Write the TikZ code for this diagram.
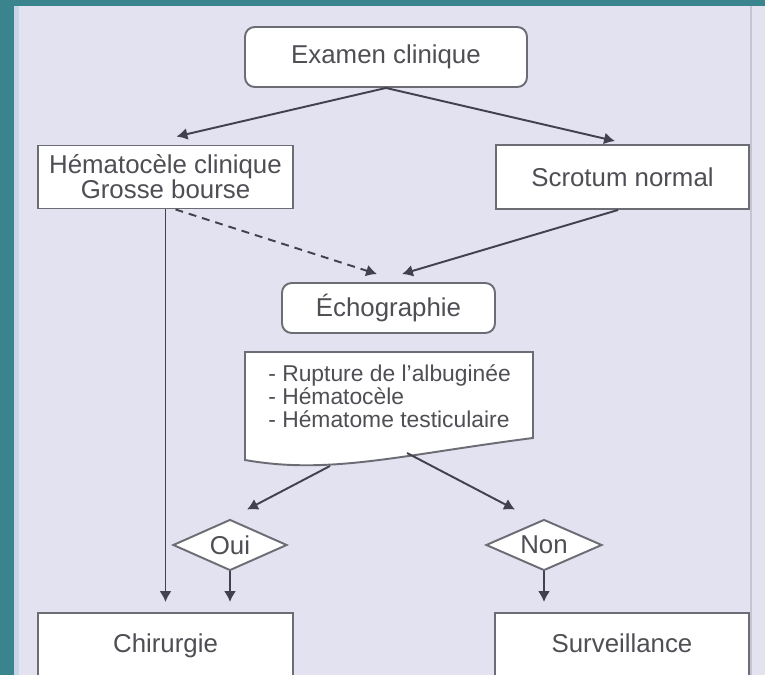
\documentclass[tikz,border=0pt]{standalone}
\usepackage{fontspec}
\setmainfont{Liberation Sans}
\usetikzlibrary{arrows.meta,shapes.geometric}
\definecolor{panel}{RGB}{226,226,240}
\definecolor{frameteal}{RGB}{58,132,142}
\definecolor{frameline}{RGB}{196,214,232}
\definecolor{edge}{RGB}{108,108,116}
\definecolor{ink}{RGB}{66,66,78}
\definecolor{txt}{RGB}{78,78,84}

\begin{document}
\begin{tikzpicture}[x=0.02cm,y=-0.02cm,font=\fontsize{14.7}{14.2}\selectfont,
  box/.style={draw=edge,line width=1.1pt,fill=white,text=txt,align=center,inner sep=0pt},
  rbox/.style={box,rounded corners=5.5pt},
  endbox/.style={box,text height=1.03em,text depth=0.21em},
  dec/.style={box,diamond,aspect=2.2},
  arr/.style={-{Latex[length=6.2pt,width=6.8pt]},draw=ink,line width=1.1pt},
  >=Latex]
\useasboundingbox (0,0) rectangle (765,675);
\fill[panel] (0,0) rectangle (765,675);
\fill[frameteal] (0,0) rectangle (765,6);
\fill[frameteal] (0,0) rectangle (14,675);
\fill[frameline] (14,6) rectangle (19,675);
\draw[edge!25!panel,line width=0.6pt] (751,6) -- (751,675);
\node[rbox,minimum width=5.64cm,minimum height=1.2cm] (exam) at (386,57) {Examen clinique};
\node[box,minimum width=5.1cm,minimum height=1.26cm] (hema) at (165.5,177) {Hématocèle clinique\\Grosse bourse};
\node[box,minimum width=5.06cm,minimum height=1.28cm] (scrot) at (622.5,177) {Scrotum normal};
\node[rbox,minimum width=4.26cm,minimum height=1cm] (echo) at (388.5,308) {Échographie};
\draw[edge,line width=1.1pt,fill=white] (245,352) -- (533,352) -- (533,438) .. controls (400,455) and (330,475) .. (245,460) -- cycle;
\node[anchor=north west,align=left,inner sep=0pt,text=txt,font=\fontsize{13}{13.3}\selectfont] (lesions) at (268,364) {- Rupture de l'albuginée\\- Hématocèle\\- Hématome testiculaire};
\coordinate (docL) at (330,466);
\coordinate (docR) at (407,453);
\node[dec,minimum width=2.28cm,minimum height=1.02cm] (oui) at (230,545) {Oui};
\node[dec,minimum width=2.32cm,minimum height=1.02cm] (non) at (544,545) {Non};
\node[endbox,minimum width=5.1cm,minimum height=1.28cm] (chir) at (165.5,645) {Chirurgie};
\node[endbox,minimum width=5.08cm,minimum height=1.28cm] (surv) at (622,645) {Surveillance};
\draw[arr] (exam.south) -- ([shift={(11,-8)}]hema.north);
\draw[arr] (exam.south) -- ([shift={(-7.5,-3)}]scrot.north);
\draw[arr,dash pattern=on 4.5pt off 3.4pt] ([xshift=5.7pt]hema.south) -- ([shift={(-11.5,-8)}]echo.north);
\draw[arr] ([xshift=-2.5pt]scrot.south) -- ([shift={(13.5,-8)}]echo.north);
\draw[arr,shorten >=5.7pt] (hema.south) -- (chir.north);
\draw[arr] (docL) -- ([shift={(17,-9)}]oui.north);
\draw[arr] (docR) -- ([shift={(-29,-9)}]non.north);
\draw[arr,shorten >=5.7pt] (oui.south) -- (oui.south |- chir.north);
\draw[arr,shorten >=5.7pt] (non.south) -- (non.south |- surv.north);
\end{tikzpicture}
\end{document}
